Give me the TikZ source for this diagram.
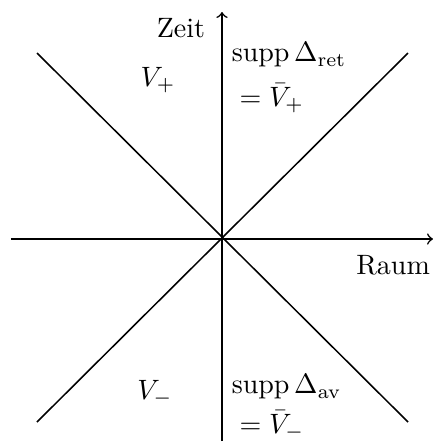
\documentclass[tikz,border=0pt]{standalone}
\usepackage{amsmath}
\usetikzlibrary{positioning}
\begin{document}
\begin{tikzpicture}[x=0.357pt,y=-0.357pt,line width=0.55pt]
        \useasboundingbox (0,0) rectangle (435,443);
        \coordinate (o) at (222,239);
        \coordinate (xl) at (11,239);
        \coordinate (xr) at (433,239);
        \coordinate (yb) at (222,441);
        \coordinate (yt) at (222,12);
        \draw [->] (xl) -- (xr);
        \draw [->] (yb) -- (yt);
        \draw (37,53) -- (408,422);
        \draw (408,53) -- (37,422);
        \node (zeit) at (181,28) {Zeit};
        \node (raum) [anchor=north east] at (440,245) {Raum};
        \node (vp) at (158,80) {$V_+$};
        \node (vm) at (155,393) {$V_-$};
        \node (ret) [anchor=north west,align=left,inner sep=0pt] at (231,42) {$\operatorname{supp}\Delta_{\mathrm{ret}}$\\[4pt] $\;=\bar V_+$};
        \node (av) [anchor=north west,align=left,inner sep=0pt] at (231,374) {$\operatorname{supp}\Delta_{\mathrm{av}}$\\[2pt] $\;=\bar V_-$};
    \end{tikzpicture}
\end{document}
